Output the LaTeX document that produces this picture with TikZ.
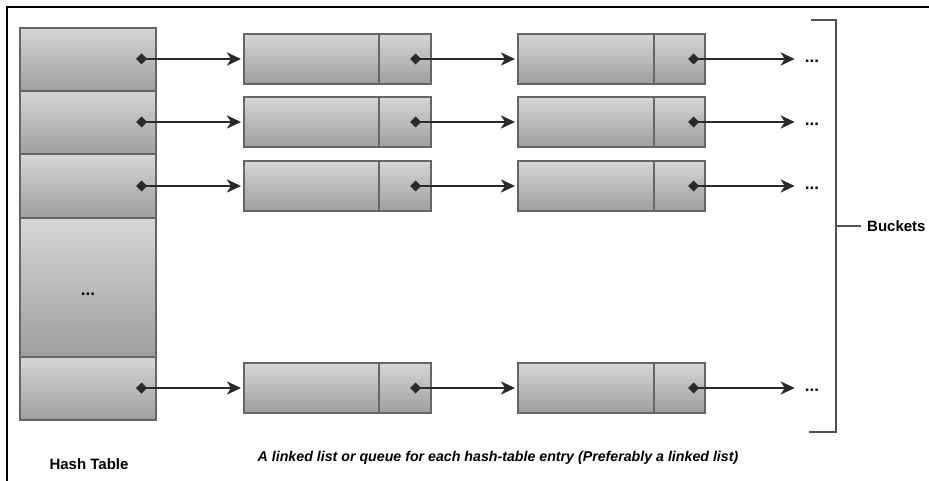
\documentclass[tikz,border=0pt]{standalone}
\usepackage{fontspec}
\setmainfont{Liberation Sans}
\usetikzlibrary{arrows.meta}
\definecolor{boxtop}{HTML}{D6D6D6}
\definecolor{boxbot}{HTML}{9E9E9E}
\definecolor{boxedge}{HTML}{666666}
\definecolor{linkcol}{HTML}{2A2A2A}
\tikzset{
  cell/.style={draw=boxedge, line width=1.4pt, top color=boxtop, bottom color=boxbot, inner sep=0pt, outer sep=0pt},
  hrow/.style={cell, minimum width=136pt, minimum height=63pt},
  dcell/.style={cell, minimum width=135pt, minimum height=50pt},
  pcell/.style={cell, minimum width=52pt, minimum height=50pt},
  link/.style={draw=linkcol, line width=2.8pt, {Diamond[length=11pt,width=11pt]}-{Stealth[length=14pt,width=13pt,inset=4pt]}, shorten >=3pt},
  dots/.style={font=\bfseries\fontsize{17}{17}\selectfont, inner sep=1pt},
  brace/.style={draw=black!68, line width=2.2pt},
  lbl/.style={font=\bfseries\fontsize{15}{17}\selectfont, inner sep=0pt}
}
\begin{document}
\begin{tikzpicture}[x=1pt,y=-1pt]
\useasboundingbox (0,0) rectangle (929,481);
\fill[white] (0,0) rectangle (929,481);
\draw[line width=2.4pt] (7,481) -- (7,7) -- (929,7);

% hash table
\node[hrow] (h1) at (88,59.5) {};
\node[hrow] (h2) at (88,122.5) {};
\node[hrow] (h3) at (88,186) {};
\node[hrow, minimum height=139pt] (h4) at (88,287.5) {};
\node[dots] (hd) at (88,294) {...};
\node[hrow] (h5) at (88,388.5) {};

% list nodes
\foreach \r/\y in {1/59,2/122,3/186,5/388}{
  \node[dcell] (a\r) at (311.5,\y) {};
  \node[pcell] (p\r) at (405,\y) {};
  \node[dcell, minimum width=136pt] (b\r) at (586,\y) {};
  \node[pcell, minimum width=51pt] (q\r) at (679.5,\y) {};
  \node[dots] (d\r) at (812,\y+2) {...};
  \coordinate (hs\r) at ([xshift=-20pt]h\r.east |- a\r.west);
  \coordinate (ps\r) at ([xshift=-21pt]p\r.east);
  \coordinate (qs\r) at ([xshift=-17pt]q\r.east);
  \draw[link] (hs\r) -- (a\r.west);
  \draw[link] (ps\r) -- (b\r.west);
  \draw[link, shorten >=9pt] (qs\r) -- (d\r.west |- qs\r);
}

% bucket bracket
\coordinate (bt) at (836,20);
\coordinate (bb) at (836,432);
\coordinate (bm) at (836,226);
\draw[brace] (811,20) -- (bt) -- (bb) -- (809,432);
\node[lbl, anchor=west] (bk) at (867,226) {Buckets};
\draw[brace] (bm) -- ([xshift=-6pt]bk.west);

% labels
\node[lbl] (ht) at (89,464) {Hash Table};
\node[font=\bfseries\itshape\fontsize{14.2}{16}\selectfont, inner sep=0pt] (cap) at (498,458) {A linked list or queue for each hash-table entry (Preferably a linked list)};
\end{tikzpicture}
\end{document}
